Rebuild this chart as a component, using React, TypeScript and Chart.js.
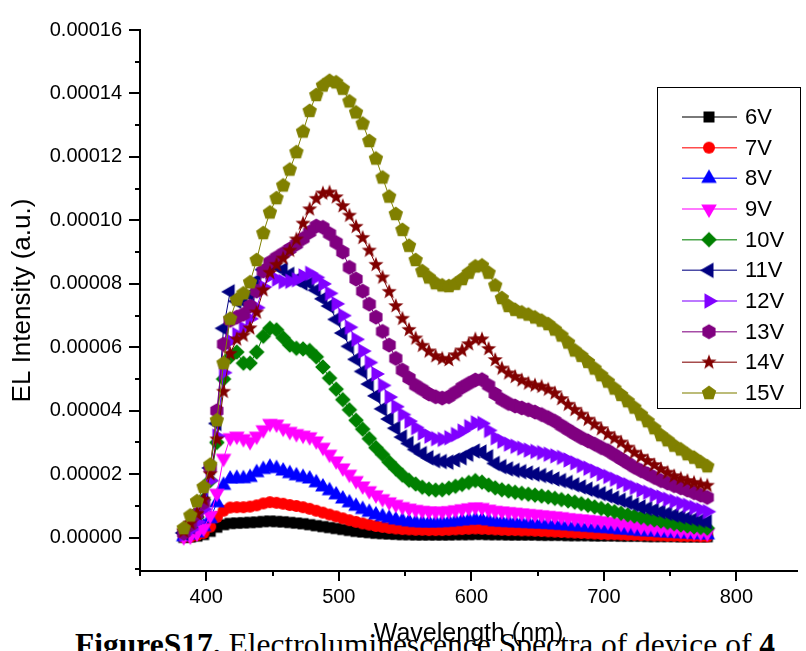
import React, { useEffect, useRef } from 'react';
import { Chart, registerables } from 'chart.js';

Chart.register(...registerables);

// Wavelength (nm)
const wavelengths = [
  383, 388, 393, 398, 403, 408, 413, 418, 423, 428,
  433, 438, 443, 448, 453, 458, 463, 468, 473, 478,
  483, 488, 493, 498, 503, 508, 513, 518, 523, 528,
  533, 538, 543, 548, 553, 558, 563, 568, 573, 578,
  583, 588, 593, 598, 603, 608, 613, 618, 623, 628,
  633, 638, 643, 648, 653, 658, 663, 668, 673, 678,
  683, 688, 693, 698, 703, 708, 713, 718, 723, 728,
  733, 738, 743, 748, 753, 758, 763, 768, 773, 778,
];

// EL intensity, in units of 1e-6 a.u.
const v6 = [
  0.1, 0.2, 0.5, 1, 2, 3.3, 4.1, 4.5, 4.6, 4.7,
  4.8, 4.9, 5.1, 5.2, 5.1, 5, 4.8, 4.6, 4.4, 4.1,
  3.8, 3.5, 3.2, 2.9, 2.6, 2.3, 2, 1.8, 1.6, 1.4,
  1.3, 1.2, 1.1, 1, 1, 0.9, 0.9, 0.9, 0.9, 0.9,
  0.9, 1, 1, 1, 1.1, 1.1, 1, 1, 1, 0.9,
  0.9, 0.9, 0.9, 0.9, 0.8, 0.8, 0.8, 0.8, 0.7, 0.7,
  0.7, 0.7, 0.6, 0.6, 0.6, 0.6, 0.5, 0.5, 0.5, 0.5,
  0.4, 0.4, 0.4, 0.4, 0.4, 0.3, 0.3, 0.3, 0.3, 0.3,
];
const v7 = [
  0.2, 0.3, 0.8, 1.5, 3.5, 6.5, 8.5, 9.5, 9.6, 9.6,
  9.8, 10.2, 10.8, 11.2, 11, 10.7, 10.3, 10, 9.6, 9.1,
  8.5, 7.9, 7.3, 6.7, 6.1, 5.5, 5, 4.5, 4.1, 3.7,
  3.4, 3.1, 2.9, 2.7, 2.6, 2.5, 2.5, 2.4, 2.4, 2.4,
  2.5, 2.6, 2.7, 2.8, 2.9, 2.8, 2.7, 2.6, 2.5, 2.4,
  2.4, 2.3, 2.3, 2.2, 2.1, 2, 1.9, 1.8, 1.7, 1.6,
  1.5, 1.4, 1.3, 1.2, 1.1, 1.1, 1, 0.9, 0.9, 0.8,
  0.8, 0.7, 0.7, 0.6, 0.6, 0.5, 0.5, 0.5, 0.4, 0.4,
];
const v8 = [
  0.3, 0.8, 1.5, 3.5, 6, 11, 16.5, 18.5, 18.7, 18.6,
  19, 20.5, 21.5, 22.2, 21.8, 21, 20.2, 19.5, 19, 18.5,
  17.3, 16, 14.8, 13.5, 12.2, 11, 9.9, 8.9, 8, 7.2,
  6.6, 6.1, 5.6, 5.3, 5, 4.8, 4.7, 4.7, 4.7, 4.8,
  4.9, 5.1, 5.3, 5.5, 5.7, 5.6, 5.3, 5, 4.9, 4.8,
  4.7, 4.6, 4.5, 4.4, 4.3, 4.2, 4.1, 3.9, 3.8, 3.6,
  3.5, 3.3, 3.2, 3, 2.9, 2.7, 2.5, 2.4, 2.2, 2,
  1.9, 1.8, 1.6, 1.5, 1.4, 1.3, 1.2, 1.1, 1, 0.9,
];
const v9 = [
  0.3, 0.5, 1.5, 3, 7, 14, 25, 31.5, 32, 31.2,
  30.3, 32, 34, 36, 35.8, 34.5, 33.5, 32.8, 32.3, 31.8,
  30.5, 28.5, 26.3, 24.2, 22, 20, 18, 16.3, 14.8, 13.5,
  12.3, 11.3, 10.5, 9.8, 9.3, 8.9, 8.6, 8.4, 8.3, 8.3,
  8.5, 8.8, 9.1, 9.4, 9.7, 9.5, 9, 8.6, 8.4, 8.2,
  8, 7.8, 7.6, 7.4, 7.2, 7, 6.8, 6.6, 6.3, 6.1,
  5.9, 5.7, 5.5, 5.3, 5.1, 4.8, 4.5, 4.2, 3.9, 3.5,
  3.3, 3.1, 2.9, 2.7, 2.5, 2.3, 2.1, 1.9, 1.7, 1.5,
];
const v10 = [
  1.5, 3.5, 6.5, 12, 18, 30, 50, 57, 58.5, 55,
  55, 58.5, 63.5, 66, 65.5, 63, 60.7, 59.7, 59.5, 59,
  57, 53.8, 50.3, 46.8, 43.5, 40.3, 37, 34.2, 31.2, 28.4,
  26.2, 23.8, 21.7, 19.7, 18.1, 16.9, 15.9, 15.3, 15, 15.1,
  15.6, 16.2, 16.8, 17.4, 18, 17.5, 16.6, 15.7, 15.1, 14.7,
  14.3, 14, 13.7, 13.4, 13.1, 12.8, 12.4, 12, 11.6, 11.2,
  10.7, 10.2, 9.7, 9.2, 8.7, 8.2, 7.7, 7.2, 6.8, 6.4,
  6, 5.6, 5.2, 4.8, 4.4, 4, 3.7, 3.4, 3.2, 3,
];
const v11 = [
  1.5, 3.5, 6.5, 12, 22, 36, 66, 77.5, 74.5, 74.5,
  76.5, 81, 84.5, 85.6, 85.6, 84.5, 83, 81.3, 80.2, 80.2,
  78, 75.3, 73, 68.8, 64.5, 60.3, 56.2, 52.4, 48.4, 44.7,
  40.6, 37.4, 34.5, 31.7, 29.7, 27.8, 26.5, 25.2, 24.3, 24,
  23.8, 24.5, 25.2, 26.3, 27.3, 27, 25.5, 23.4, 22.4, 21.7,
  21.2, 20.8, 20.4, 20, 19.6, 19.1, 18.5, 18, 17.4, 16.7,
  16, 15.3, 14.6, 13.9, 13.2, 12.5, 11.8, 11.1, 10.4, 9.7,
  9.2, 8.7, 8.2, 7.7, 7.1, 6.6, 6.2, 5.8, 5.4, 5,
];
const v12 = [
  1, 2.5, 5, 9, 18, 32, 52, 62, 64, 66,
  69, 72.5, 79, 82.5, 81.5, 80.7, 80.8, 81.3, 82.5, 83.3,
  82, 80, 77, 73.7, 70, 66.3, 62.5, 58.8, 55.2, 51.6,
  48, 44.3, 41.3, 38.8, 36.7, 34.7, 33, 32, 31.2, 31,
  31.5, 32.5, 33.6, 35, 36.2, 36, 33.8, 31.5, 30.4, 29.5,
  28.8, 28.2, 27.6, 27.2, 26.8, 26.3, 25.8, 25.3, 24.5, 23.6,
  22.7, 21.9, 21, 20.1, 19.3, 18.4, 17.5, 16.7, 15.8, 15,
  14.3, 13.5, 12.8, 12.1, 11.5, 10.8, 10.2, 9.5, 8.8, 8.2,
];
const v13 = [
  1.5, 4, 7.5, 11, 22, 40, 61, 68.5, 69.5, 70.4,
  73, 77.7, 84, 86.8, 88.3, 89.6, 91, 92.5, 94.3, 96.3,
  98.2, 97.8, 95.8, 93, 90, 85.2, 81.5, 77.7, 73.6, 69.5,
  65, 60.7, 56.5, 52.8, 50.3, 48, 46.7, 45.3, 44.4, 44,
  44.4, 45.8, 47.4, 48.6, 49.7, 49.8, 48, 45.3, 43.5, 42.3,
  41.5, 40.9, 40.3, 39.6, 38.8, 37.8, 36.7, 35.3, 34, 32.7,
  31.5, 30.5, 29.5, 28.4, 27.4, 26.1, 24.8, 23.5, 22.2, 21.1,
  20.1, 19, 18, 17.2, 16.4, 15.7, 15, 14.2, 13.4, 12.7,
];
const v14 = [
  2, 4.5, 7.5, 12, 20, 31, 46, 58, 62.5, 63.7,
  66, 71, 78, 83.5, 86, 88, 90.5, 94, 99, 103.5,
  106.8, 108.5, 108.8, 107.3, 104.5, 101.5, 98, 94.5, 90.5, 86,
  82, 77.5, 73, 69, 65.5, 62.8, 60.5, 58.7, 57.2, 56.4,
  56, 57.5, 59, 61, 62.5, 62.5, 59.5, 56, 53.3, 51.8,
  50.7, 49.6, 48.6, 48, 47.6, 46.7, 45.5, 43.7, 41.9, 40.3,
  38.8, 37.2, 35.7, 34.2, 32.6, 31.3, 30, 28.4, 26.8, 25.5,
  24.2, 22.9, 21.6, 20.5, 19.4, 18.6, 17.9, 17.3, 16.8, 16.4,
];
const v15 = [
  3, 7, 11.5, 16, 23, 37, 55, 69, 75, 77,
  80.5, 87.5, 96, 102.5, 107, 111, 116, 121.5, 128, 134.5,
  139.5, 142.5, 144, 143.5, 141.5, 137.5, 134, 130.5, 125, 119.5,
  113.5, 107.5, 102, 97, 92, 87.5, 84, 82, 80.2, 79.5,
  79.3, 80, 81.5, 83.5, 85.5, 85.8, 83.5, 79.5, 75.5, 73,
  71.8, 71, 70.3, 69.4, 68.4, 67.3, 65.6, 63.7, 61.5, 59,
  57.3, 55.4, 53.3, 51.2, 49.2, 47, 45, 43, 41, 38.8,
  36.7, 34.5, 32.3, 30.7, 29, 27.8, 26.3, 25.2, 23.8, 22.5,
];

const seriesValues = [v6, v7, v8, v9, v10, v11, v12, v13, v14, v15];
const seriesLabels = ['6V', '7V', '8V', '9V', '10V', '11V', '12V', '13V', '14V', '15V'];
const seriesColors = ['#000000', '#FF0000', '#0000FF', '#FF00FF', '#008000', '#000080', '#8000FF', '#800080', '#800000', '#808000'];
const seriesMarkers = ['square', 'circle', 'up', 'down', 'diamond', 'left', 'right', 'hexagon', 'star', 'pentagon'];

const xMajorTicks = [400, 500, 600, 700, 800];
const xMinorTicks = [350, 450, 550, 650, 750];
const xTickLabels = ['400', '500', '600', '700', '800'];
const yMajorTicks = [0, 20, 40, 60, 80, 100, 120, 140, 160];
const yMinorTicks = [-10, 10, 30, 50, 70, 90, 110, 130, 150];
const yTickLabels = ['0.00000', '0.00002', '0.00004', '0.00006', '0.00008', '0.00010', '0.00012', '0.00014', '0.00016'];

function makeMarker(kind: string, color: string): HTMLCanvasElement {
  const S = 22;
  const c = S / 2;
  const cv = document.createElement('canvas');
  cv.width = S;
  cv.height = S;
  const g = cv.getContext('2d') as CanvasRenderingContext2D;
  g.fillStyle = color;
  g.beginPath();
  const poly = (n: number, r: number, rot: number) => {
    for (let k = 0; k < n; k++) {
      const a = rot + (k * 2 * Math.PI) / n;
      const px = c + r * Math.cos(a);
      const py = c + r * Math.sin(a);
      if (k === 0) g.moveTo(px, py);
      else g.lineTo(px, py);
    }
    g.closePath();
  };
  switch (kind) {
    case 'square':
      g.rect(c - 5.5, c - 5.5, 11, 11);
      break;
    case 'circle':
      g.arc(c, c, 6, 0, Math.PI * 2);
      break;
    case 'up':
      poly(3, 9, -Math.PI / 2);
      break;
    case 'down':
      poly(3, 9, Math.PI / 2);
      break;
    case 'left':
      poly(3, 9, Math.PI);
      break;
    case 'right':
      poly(3, 9, 0);
      break;
    case 'diamond':
      poly(4, 7.8, -Math.PI / 2);
      break;
    case 'hexagon':
      poly(6, 7.6, -Math.PI / 2);
      break;
    case 'pentagon':
      poly(5, 7.6, -Math.PI / 2);
      break;
    case 'star':
      for (let k = 0; k < 10; k++) {
        const r = k % 2 === 0 ? 8 : 3.3;
        const a = -Math.PI / 2 + (k * Math.PI) / 5;
        const px = c + r * Math.cos(a);
        const py = c + r * Math.sin(a);
        if (k === 0) g.moveTo(px, py);
        else g.lineTo(px, py);
      }
      g.closePath();
      break;
  }
  g.fill();
  return cv;
}

export default function App() {
  const canvasRef = useRef<HTMLCanvasElement | null>(null);

  useEffect(() => {
    const canvas = canvasRef.current;
    if (!canvas) return;
    const markers = seriesMarkers.map((m, i) => makeMarker(m, seriesColors[i]));

    const tickMarks = {
      id: 'tickMarks',
      afterDraw(chart: any) {
        const ctx = chart.ctx as CanvasRenderingContext2D;
        const xs = chart.scales.x;
        const ys = chart.scales.y;
        ctx.save();
        ctx.strokeStyle = '#000';
        ctx.lineWidth = 2;
        ctx.beginPath();
        xs.ticks.forEach((t: any) => {
          const px = Math.round(xs.getPixelForValue(t.value));
          const len = xMajorTicks.includes(t.value) ? 10 : 5;
          ctx.moveTo(px, xs.top);
          ctx.lineTo(px, xs.top + len);
        });
        ys.ticks.forEach((t: any) => {
          const py = Math.round(ys.getPixelForValue(t.value));
          const len = yMajorTicks.includes(t.value) ? 11 : 5;
          ctx.moveTo(ys.right, py);
          ctx.lineTo(ys.right - len, py);
        });
        ctx.stroke();
        ctx.restore();
      },
    };

    const boxLegend = {
      id: 'boxLegend',
      afterDraw(chart: any) {
        const ctx = chart.ctx as CanvasRenderingContext2D;
        const left = 657.5, top = 87.5, right = 800.5, bottom = 408.5;
        ctx.save();
        ctx.fillStyle = '#ffffff';
        ctx.fillRect(left, top, right - left, bottom - top);
        ctx.strokeStyle = '#000';
        ctx.lineWidth = 1;
        ctx.strokeRect(left, top, right - left, bottom - top);
        ctx.font = '22px "Liberation Sans", Arial, sans-serif';
        ctx.textBaseline = 'middle';
        ctx.textAlign = 'left';
        seriesLabels.forEach((lab, i) => {
          const y = 117 + i * 30.67;
          ctx.strokeStyle = seriesColors[i];
          ctx.globalAlpha = 0.7;
          ctx.lineWidth = 1.5;
          ctx.beginPath();
          ctx.moveTo(682, y);
          ctx.lineTo(737, y);
          ctx.stroke();
          ctx.globalAlpha = 1;
          const mk = markers[i];
          ctx.drawImage(mk, 709 - mk.width / 2, y - mk.height / 2);
          ctx.fillStyle = '#000';
          ctx.fillText(lab, 745, y + 1);
        });
        ctx.restore();
      },
    };

    const datasets = seriesValues.map((vals, i) => ({
      label: seriesLabels[i],
      data: wavelengths.map((w, j) => ({ x: w, y: vals[j] })),
      borderColor: seriesColors[i],
      backgroundColor: seriesColors[i],
      borderWidth: 1,
      pointStyle: markers[i],
      pointRadius: 8,
      pointHoverRadius: 8,
      fill: false,
      tension: 0,
      order: seriesValues.length - 1 - i,
    }));

    const chart = new Chart(canvas, {
      type: 'line',
      data: { datasets },
      plugins: [tickMarks, boxLegend],
      options: {
        animation: false,
        responsive: false,
        maintainAspectRatio: false,
        events: [],
        layout: { padding: { top: 24, left: 0, right: 0, bottom: 0 } },
        plugins: {
          legend: { display: false },
          tooltip: { enabled: false },
          title: { display: false },
        },
        scales: {
          x: {
            type: 'linear',
            min: 350,
            max: 845.7,
            afterBuildTicks: (scale: any) => {
              scale.ticks = [...xMinorTicks, ...xMajorTicks].sort((a, b) => a - b).map((v) => ({ value: v }));
            },
            afterFit: (scale: any) => {
              scale.height = 80;
            },
            grid: { display: false, drawTicks: false },
            border: { display: true, color: '#000', width: 2 },
            ticks: {
              padding: 14,
              color: '#000',
              maxRotation: 0,
              autoSkip: false,
              font: { family: '"Liberation Sans", Arial, sans-serif', size: 20 },
              callback: (value: any) => {
                const k = xMajorTicks.indexOf(Number(value));
                return k >= 0 ? xTickLabels[k] : '';
              },
            },
            title: {
              display: true,
              text: 'Wavelength (nm)',
              color: '#000',
              font: { family: '"Liberation Sans", Arial, sans-serif', size: 25 },
              padding: { top: 0, bottom: 2 },
            },
          },
          y: {
            type: 'linear',
            min: -10.5,
            max: 160,
            afterBuildTicks: (scale: any) => {
              scale.ticks = [...yMinorTicks, ...yMajorTicks].sort((a, b) => a - b).map((v) => ({ value: v }));
            },
            afterFit: (scale: any) => {
              scale.width = 140;
            },
            grid: { display: false, drawTicks: false },
            border: { display: true, color: '#000', width: 2 },
            ticks: {
              padding: 18,
              color: '#000',
              autoSkip: false,
              font: { family: '"Liberation Sans", Arial, sans-serif', size: 20 },
              callback: (value: any) => {
                const k = yMajorTicks.indexOf(Number(value));
                return k >= 0 ? yTickLabels[k] : '';
              },
            },
            title: {
              display: true,
              text: 'EL Intensity (a.u.)',
              color: '#000',
              font: { family: '"Liberation Sans", Arial, sans-serif', size: 26 },
              padding: { top: 7, bottom: 0 },
            },
          },
        },
      },
    });

    return () => {
      chart.destroy();
    };
  }, []);

  return (
    <div
      style={{
        position: 'fixed',
        left: 0,
        top: 0,
        width: 806,
        height: 651,
        overflow: 'hidden',
        background: '#ffffff',
      }}
    >
      <div
        style={{
          position: 'absolute',
          left: 75,
          top: 629,
          whiteSpace: 'nowrap',
          fontFamily: '"Liberation Serif", "Times New Roman", serif',
          fontSize: '31.5px',
          lineHeight: '32px',
          color: '#000',
        }}
      >
        <b>FigureS17.</b> Electroluminescence Spectra of device of <b>4</b>
      </div>
      <canvas
        ref={canvasRef}
        width={806}
        height={651}
        style={{ position: 'absolute', left: 0, top: 0, width: 806, height: 651, display: 'block' }}
      />
    </div>
  );
}
